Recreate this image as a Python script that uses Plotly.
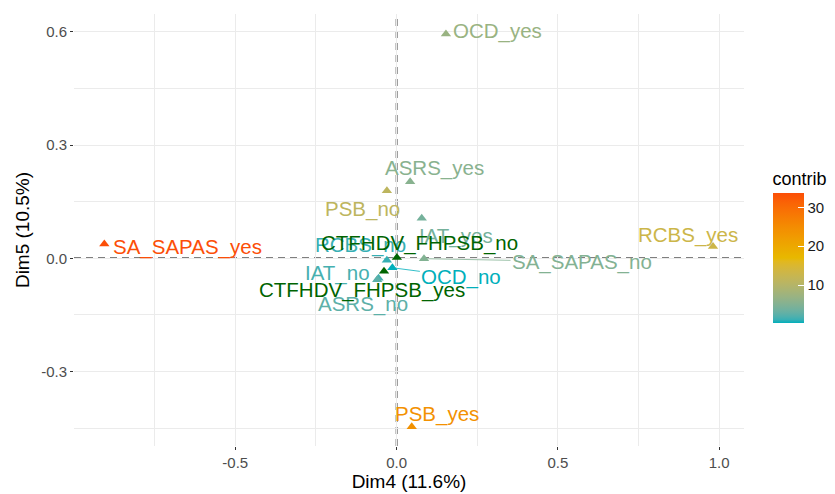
import plotly.graph_objects as go
import numpy as np

# ---------------- data ----------------
active_labels = ["SA_SAPAS_yes", "SA_SAPAS_no", "RCBS_yes", "RCBS_no", "PSB_yes", "PSB_no",
                 "OCD_yes", "OCD_no", "IAT_yes", "IAT_no", "ASRS_yes", "ASRS_no"]
active_dim4 = [-0.906, 0.085, 0.981, -0.030, 0.047, -0.030, 0.153, -0.013, 0.078, -0.056, 0.042, -0.060]
active_dim5 = [0.038, -0.001, 0.031, -0.005, -0.446, 0.179, 0.594, -0.025, 0.106, -0.053, 0.203, -0.057]
active_contrib = [33.7, 5.0, 13.0, 1.0, 24.0, 11.0, 7.0, 0.2, 4.0, 1.5, 5.5, 2.5]

sup_labels = ["CTFHDV_FHPSB_no", "CTFHDV_FHPSB_yes"]
sup_dim4 = [0.001, -0.039]
sup_dim5 = [0.002, -0.034]

colorbar_ticks = [10, 20, 30]

# ---------------- label placement (pixel offsets, style only) ----------------
active_offsets = [(83.5, -3, False), (158, -3, True), (-25, 12, False), (-26, 15, True),
                  (25, 13, False), (-24, -18, False), (52, 3, False), (69, -9, True),
                  (34, -18, False), (-41, 5, False), (24, 14, False), (-14, -24, False)]
sup_offsets = [(23, 15, False), (-22, -19, False)]

# ---------------- colour helpers (Lab interpolation like ggplot) ----------------
grad_cols = ["#00AFBB", "#E7B800", "#FC4E07"]


def hex2rgb(h):
    h = h.lstrip("#")
    return np.array([int(h[i:i + 2], 16) for i in (0, 2, 4)]) / 255.0


def srgb2lin(c):
    return np.where(c <= 0.04045, c / 12.92, ((c + 0.055) / 1.055) ** 2.4)


def lin2srgb(c):
    return np.where(c <= 0.0031308, 12.92 * c, 1.055 * np.power(np.clip(c, 0, None), 1 / 2.4) - 0.055)


M = np.array([[0.4124564, 0.3575761, 0.1804375],
              [0.2126729, 0.7151522, 0.0721750],
              [0.0193339, 0.1191920, 0.9503041]])
Minv = np.linalg.inv(M)
WP = np.array([0.95047, 1.0, 1.08883])


def rgb2lab(rgb):
    xyz = M @ srgb2lin(rgb) / WP
    f = np.where(xyz > 216 / 24389, np.cbrt(xyz), (24389 / 27 * xyz + 16) / 116)
    return np.array([116 * f[1] - 16, 500 * (f[0] - f[1]), 200 * (f[1] - f[2])])


def lab2rgb(lab):
    fy = (lab[0] + 16) / 116
    fx = fy + lab[1] / 500
    fz = fy - lab[2] / 200
    f = np.array([fx, fy, fz])
    xyz = np.where(f ** 3 > 216 / 24389, f ** 3, (116 * f - 16) / (24389 / 27)) * WP
    rgb = lin2srgb(Minv @ xyz)
    return np.clip(rgb, 0, 1)


labs = [rgb2lab(hex2rgb(c)) for c in grad_cols]


def ramp(t):
    t = min(max(t, 0.0), 1.0)
    seg = 0 if t <= 0.5 else 1
    lt = (t - 0.5 * seg) / 0.5
    lab = labs[seg] * (1 - lt) + labs[seg + 1] * lt
    r, g, b = (lab2rgb(lab) * 255).round().astype(int)
    return f"rgb({r},{g},{b})"


cmin, cmax = min(active_contrib), max(active_contrib)
colorscale = [[i / 40, ramp(i / 40)] for i in range(41)]


def val2col(v):
    return ramp((v - cmin) / (cmax - cmin))


FONT = "Liberation Sans, Arial, Helvetica, sans-serif"
LABEL_SIZE = 20.5

fig = go.Figure()

fig.add_trace(go.Scatter(
    x=active_dim4, y=active_dim5, mode="markers",
    marker=dict(symbol="triangle-up", size=9, color=active_contrib, colorscale=colorscale,
                cmin=cmin, cmax=cmax, showscale=True, line=dict(width=0),
                colorbar=dict(
                    title=dict(text="contrib", side="top", font=dict(size=18, color="#000", family=FONT)),
                    thickness=31, thicknessmode="pixels", len=155, lenmode="pixels",
                    x=1.0426, xanchor="left", xpad=0, y=0.464, yanchor="middle", ypad=0,
                    tickvals=colorbar_ticks, ticks="inside", ticklen=6, tickcolor="white", tickwidth=1,
                    tickfont=dict(size=15, color="#1A1A1A", family=FONT),
                    outlinewidth=0, bgcolor="rgba(0,0,0,0)")),
    hoverinfo="skip", showlegend=False))

fig.add_trace(go.Scatter(
    x=sup_dim4, y=sup_dim5, mode="markers",
    marker=dict(symbol="triangle-up", size=9, color="darkgreen", line=dict(width=0)),
    hoverinfo="skip", showlegend=False))

annotations = []


def add_label(x, y, text, col, off):
    dx, dy, seg = off
    if seg:
        annotations.append(dict(x=x, y=y, xref="x", yref="y", text=text, showarrow=True,
                                arrowhead=0, arrowwidth=0.8, arrowcolor=col, ax=dx, ay=-dy,
                                standoff=0, font=dict(size=LABEL_SIZE, color=col, family=FONT)))
    else:
        annotations.append(dict(x=x, y=y, xref="x", yref="y", text=text, showarrow=False,
                                xshift=dx, yshift=dy, xanchor="center", yanchor="middle",
                                font=dict(size=LABEL_SIZE, color=col, family=FONT)))


for lab_, x, y, c, off in zip(active_labels, active_dim4, active_dim5, active_contrib, active_offsets):
    add_label(x, y, lab_, val2col(c), off)
for lab_, x, y, off in zip(sup_labels, sup_dim4, sup_dim5, sup_offsets):
    add_label(x, y, lab_, "darkgreen", off)

shapes = [
    dict(type="line", xref="x", yref="paper", x0=0, x1=0, y0=0, y1=1,
         line=dict(color="black", width=1.6, dash="7px,5px"), layer="between"),
    dict(type="line", xref="paper", yref="y", x0=0, x1=1, y0=0, y1=0,
         line=dict(color="black", width=1.6, dash="7px,5px"), layer="between"),
]

axis_common = dict(
    showgrid=True, gridcolor="#EBEBEB", gridwidth=1.1, zeroline=False, showline=False,
    ticks="outside", ticklen=3, tickwidth=1.2, tickcolor="#333333",
    tickfont=dict(size=15, color="#4D4D4D", family=FONT),
    title_font=dict(size=19, color="#000", family=FONT),
)

# page body has an 8px default margin: figure is 8px smaller and margins shifted accordingly
fig.update_layout(
    width=827, height=486,
    margin=dict(l=65.5, r=90.6, t=5.9, b=47.9, autoexpand=False),
    paper_bgcolor="white", plot_bgcolor="white",
    xaxis=dict(range=[-1.0, 1.077], tickvals=[-0.5, 0.0, 0.5, 1.0], ticktext=["-0.5", "0.0", "0.5", "1.0"],
               title=dict(text="Dim4 (11.6%)", standoff=4),
               minor=dict(showgrid=True, gridcolor="#EBEBEB", gridwidth=0.6, tickvals=[-0.75, -0.25, 0.25, 0.75]),
               **axis_common),
    yaxis=dict(range=[-0.497, 0.647], tickvals=[-0.3, 0.0, 0.3, 0.6], ticktext=["-0.3", "0.0", "0.3", "0.6"],
               title=dict(text="Dim5 (10.5%)", standoff=6),
               minor=dict(showgrid=True, gridcolor="#EBEBEB", gridwidth=0.6, tickvals=[-0.45, -0.15, 0.15, 0.45]),
               **axis_common),
    annotations=annotations, shapes=shapes,
    font=dict(family=FONT),
)

fig.write_html("out.html")
